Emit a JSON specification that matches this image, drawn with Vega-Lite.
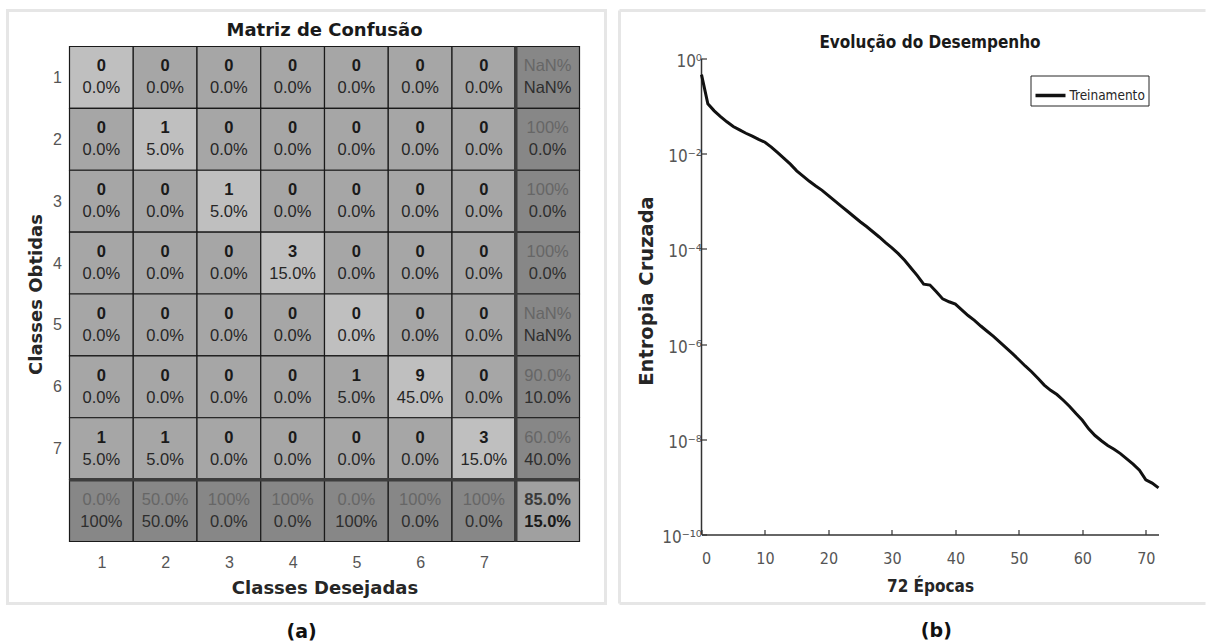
{
  "$schema": "https://vega.github.io/schema/vega-lite/v6.json",
  "background": "white",
  "padding": {"left": 5.5, "top": 8.5, "right": 0, "bottom": 0},
  "spacing": 10,
  "resolve": {"legend": {"color": "independent"}, "scale": {"color": "independent"}},
  "config": {"view": {"stroke": null}, "font": "Liberation Sans"},
  "datasets": {
    "cells": [
      {"r":1,"c":1,"a":"0","b":"0.0%","k":"d"},{"r":1,"c":2,"a":"0","b":"0.0%","k":"o"},{"r":1,"c":3,"a":"0","b":"0.0%","k":"o"},{"r":1,"c":4,"a":"0","b":"0.0%","k":"o"},{"r":1,"c":5,"a":"0","b":"0.0%","k":"o"},{"r":1,"c":6,"a":"0","b":"0.0%","k":"o"},{"r":1,"c":7,"a":"0","b":"0.0%","k":"o"},{"r":1,"c":8,"a":"NaN%","b":"NaN%","k":"s"},
      {"r":2,"c":1,"a":"0","b":"0.0%","k":"o"},{"r":2,"c":2,"a":"1","b":"5.0%","k":"d"},{"r":2,"c":3,"a":"0","b":"0.0%","k":"o"},{"r":2,"c":4,"a":"0","b":"0.0%","k":"o"},{"r":2,"c":5,"a":"0","b":"0.0%","k":"o"},{"r":2,"c":6,"a":"0","b":"0.0%","k":"o"},{"r":2,"c":7,"a":"0","b":"0.0%","k":"o"},{"r":2,"c":8,"a":"100%","b":"0.0%","k":"s"},
      {"r":3,"c":1,"a":"0","b":"0.0%","k":"o"},{"r":3,"c":2,"a":"0","b":"0.0%","k":"o"},{"r":3,"c":3,"a":"1","b":"5.0%","k":"d"},{"r":3,"c":4,"a":"0","b":"0.0%","k":"o"},{"r":3,"c":5,"a":"0","b":"0.0%","k":"o"},{"r":3,"c":6,"a":"0","b":"0.0%","k":"o"},{"r":3,"c":7,"a":"0","b":"0.0%","k":"o"},{"r":3,"c":8,"a":"100%","b":"0.0%","k":"s"},
      {"r":4,"c":1,"a":"0","b":"0.0%","k":"o"},{"r":4,"c":2,"a":"0","b":"0.0%","k":"o"},{"r":4,"c":3,"a":"0","b":"0.0%","k":"o"},{"r":4,"c":4,"a":"3","b":"15.0%","k":"d"},{"r":4,"c":5,"a":"0","b":"0.0%","k":"o"},{"r":4,"c":6,"a":"0","b":"0.0%","k":"o"},{"r":4,"c":7,"a":"0","b":"0.0%","k":"o"},{"r":4,"c":8,"a":"100%","b":"0.0%","k":"s"},
      {"r":5,"c":1,"a":"0","b":"0.0%","k":"o"},{"r":5,"c":2,"a":"0","b":"0.0%","k":"o"},{"r":5,"c":3,"a":"0","b":"0.0%","k":"o"},{"r":5,"c":4,"a":"0","b":"0.0%","k":"o"},{"r":5,"c":5,"a":"0","b":"0.0%","k":"d"},{"r":5,"c":6,"a":"0","b":"0.0%","k":"o"},{"r":5,"c":7,"a":"0","b":"0.0%","k":"o"},{"r":5,"c":8,"a":"NaN%","b":"NaN%","k":"s"},
      {"r":6,"c":1,"a":"0","b":"0.0%","k":"o"},{"r":6,"c":2,"a":"0","b":"0.0%","k":"o"},{"r":6,"c":3,"a":"0","b":"0.0%","k":"o"},{"r":6,"c":4,"a":"0","b":"0.0%","k":"o"},{"r":6,"c":5,"a":"1","b":"5.0%","k":"o"},{"r":6,"c":6,"a":"9","b":"45.0%","k":"d"},{"r":6,"c":7,"a":"0","b":"0.0%","k":"o"},{"r":6,"c":8,"a":"90.0%","b":"10.0%","k":"s"},
      {"r":7,"c":1,"a":"1","b":"5.0%","k":"o"},{"r":7,"c":2,"a":"1","b":"5.0%","k":"o"},{"r":7,"c":3,"a":"0","b":"0.0%","k":"o"},{"r":7,"c":4,"a":"0","b":"0.0%","k":"o"},{"r":7,"c":5,"a":"0","b":"0.0%","k":"o"},{"r":7,"c":6,"a":"0","b":"0.0%","k":"o"},{"r":7,"c":7,"a":"3","b":"15.0%","k":"d"},{"r":7,"c":8,"a":"60.0%","b":"40.0%","k":"s"},
      {"r":8,"c":1,"a":"0.0%","b":"100%","k":"s"},{"r":8,"c":2,"a":"50.0%","b":"50.0%","k":"s"},{"r":8,"c":3,"a":"100%","b":"0.0%","k":"s"},{"r":8,"c":4,"a":"100%","b":"0.0%","k":"s"},{"r":8,"c":5,"a":"0.0%","b":"100%","k":"s"},{"r":8,"c":6,"a":"100%","b":"0.0%","k":"s"},{"r":8,"c":7,"a":"100%","b":"0.0%","k":"s"},{"r":8,"c":8,"a":"85.0%","b":"15.0%","k":"t"}
    ],
    "loss": [
      {"epoca":0,"entropia":0.457},{"epoca":1,"entropia":0.112},{"epoca":2,"entropia":0.0794},{"epoca":3,"entropia":0.0603},{"epoca":4,"entropia":0.0468},{"epoca":5,"entropia":0.0372},{"epoca":6,"entropia":0.0316},{"epoca":7,"entropia":0.0269},{"epoca":8,"entropia":0.0234},{"epoca":9,"entropia":0.0200},
      {"epoca":10,"entropia":0.0174},{"epoca":11,"entropia":0.0138},{"epoca":12,"entropia":0.0105},{"epoca":13,"entropia":7.94e-3},{"epoca":14,"entropia":6.03e-3},{"epoca":15,"entropia":4.37e-3},{"epoca":16,"entropia":3.39e-3},{"epoca":17,"entropia":2.63e-3},{"epoca":18,"entropia":2.09e-3},{"epoca":19,"entropia":1.70e-3},
      {"epoca":20,"entropia":1.32e-3},{"epoca":21,"entropia":1.02e-3},{"epoca":22,"entropia":7.94e-4},{"epoca":23,"entropia":6.17e-4},{"epoca":24,"entropia":4.79e-4},{"epoca":25,"entropia":3.72e-4},{"epoca":26,"entropia":2.95e-4},{"epoca":27,"entropia":2.29e-4},{"epoca":28,"entropia":1.78e-4},{"epoca":29,"entropia":1.35e-4},
      {"epoca":30,"entropia":1.05e-4},{"epoca":31,"entropia":7.94e-5},{"epoca":32,"entropia":5.75e-5},{"epoca":33,"entropia":3.98e-5},{"epoca":34,"entropia":2.75e-5},{"epoca":35,"entropia":1.82e-5},{"epoca":36,"entropia":1.74e-5},{"epoca":37,"entropia":1.26e-5},{"epoca":38,"entropia":8.91e-6},{"epoca":39,"entropia":7.76e-6},
      {"epoca":40,"entropia":6.92e-6},{"epoca":41,"entropia":5.25e-6},{"epoca":42,"entropia":3.98e-6},{"epoca":43,"entropia":3.16e-6},{"epoca":44,"entropia":2.40e-6},{"epoca":45,"entropia":1.86e-6},{"epoca":46,"entropia":1.45e-6},{"epoca":47,"entropia":1.10e-6},{"epoca":48,"entropia":8.32e-7},{"epoca":49,"entropia":6.31e-7},
      {"epoca":50,"entropia":4.68e-7},{"epoca":51,"entropia":3.47e-7},{"epoca":52,"entropia":2.63e-7},{"epoca":53,"entropia":1.91e-7},{"epoca":54,"entropia":1.38e-7},{"epoca":55,"entropia":1.07e-7},{"epoca":56,"entropia":8.71e-8},{"epoca":57,"entropia":6.61e-8},{"epoca":58,"entropia":4.90e-8},{"epoca":59,"entropia":3.47e-8},
      {"epoca":60,"entropia":2.51e-8},{"epoca":61,"entropia":1.66e-8},{"epoca":62,"entropia":1.20e-8},{"epoca":63,"entropia":9.33e-9},{"epoca":64,"entropia":7.41e-9},{"epoca":65,"entropia":6.17e-9},{"epoca":66,"entropia":5.01e-9},{"epoca":67,"entropia":3.89e-9},{"epoca":68,"entropia":3.02e-9},{"epoca":69,"entropia":2.24e-9},
      {"epoca":70,"entropia":1.41e-9},{"epoca":71,"entropia":1.20e-9},{"epoca":72,"entropia":9.55e-10}
    ]
  },
  "hconcat": [
    {
      "width": 510,
      "height": 495,
      "title": {"text": "Matriz de Confusão", "anchor": "middle", "offset": -31, "font": "DejaVu Sans", "fontSize": 18, "fontWeight": "bold", "color": "#1a1a1a"},
      "layer": [
        {
          "data": {"values": [{}]},
          "mark": {"type": "rect", "filled": false, "stroke": "#e6e6e6", "strokeWidth": 3},
          "encoding": {
            "x": {"datum": -0.9725, "type": "quantitative"},
            "x2": {"datum": 8.408},
            "y": {"datum": -0.582, "type": "quantitative"},
            "y2": {"datum": 9.002}
          }
        },
        {
          "data": {"name": "cells"},
          "transform": [
            {"calculate": "datum.c - 1", "as": "c0"},
            {"calculate": "datum.r - 1", "as": "r0"}
          ],
          "mark": {"type": "rect", "stroke": "#1a1a1a", "strokeWidth": 1.2},
          "encoding": {
            "x": {"field": "c0", "type": "quantitative", "title": "Classes Desejadas",
              "scale": {"domain": [0, 8], "nice": false, "zero": false},
              "axis": {"values": [0.5,1.5,2.5,3.5,4.5,5.5,6.5], "labelExpr": "'' + (datum.value + 0.5)", "domain": false, "ticks": false, "tickSize": 0, "grid": false, "labelPadding": 13, "labelFont": "Liberation Sans", "labelFontSize": 16, "labelColor": "#555555", "titleFont": "DejaVu Sans", "titleFontSize": 18, "titleFontWeight": "bold", "titleColor": "#262626", "titlePadding": 9}},
            "x2": {"field": "c"},
            "y": {"field": "r0", "type": "quantitative", "title": "Classes Obtidas",
              "scale": {"domain": [0, 8], "nice": false, "zero": false, "reverse": true},
              "axis": {"values": [0.5,1.5,2.5,3.5,4.5,5.5,6.5], "labelExpr": "'' + (datum.value + 0.5)", "domain": false, "ticks": false, "tickSize": 0, "grid": false, "labelPadding": 8, "labelFont": "Liberation Sans", "labelFontSize": 16, "labelColor": "#555555", "titleFont": "DejaVu Sans", "titleFontSize": 18, "titleFontWeight": "bold", "titleColor": "#262626", "titlePadding": 7}},
            "y2": {"field": "r"},
            "fill": {"field": "k", "type": "nominal", "legend": null,
              "scale": {"domain": ["d", "o", "s", "t"], "range": ["#bfbfbf", "#a6a6a6", "#878787", "#a0a0a0"]}}
          }
        },
        {
          "data": {"values": [{}]},
          "mark": {"type": "rule", "color": "#3d3d3d", "strokeWidth": 3.5},
          "encoding": {"x": {"datum": 7, "type": "quantitative"}, "y": {"datum": 0, "type": "quantitative"}, "y2": {"datum": 8}}
        },
        {
          "data": {"values": [{}]},
          "mark": {"type": "rule", "color": "#3d3d3d", "strokeWidth": 3.5},
          "encoding": {"y": {"datum": 7, "type": "quantitative"}, "x": {"datum": 0, "type": "quantitative"}, "x2": {"datum": 8}}
        },
        {
          "data": {"name": "cells"},
          "transform": [
            {"filter": "datum.k == 'd' || datum.k == 'o'"},
            {"calculate": "datum.c - 0.5", "as": "cx"},
            {"calculate": "datum.r - 0.5", "as": "cy"}
          ],
          "mark": {"type": "text", "font": "Liberation Sans", "fontSize": 16.5, "fontWeight": "bold", "color": "#1a1a1a", "dy": -11, "baseline": "middle"},
          "encoding": {"x": {"field": "cx", "type": "quantitative", "title": "Classes Desejadas"}, "y": {"field": "cy", "type": "quantitative", "title": "Classes Obtidas"}, "text": {"field": "a"}}
        },
        {
          "data": {"name": "cells"},
          "transform": [
            {"filter": "datum.k == 'd' || datum.k == 'o'"},
            {"calculate": "datum.c - 0.5", "as": "cx"},
            {"calculate": "datum.r - 0.5", "as": "cy"}
          ],
          "mark": {"type": "text", "font": "Liberation Sans", "fontSize": 16.5, "color": "#262626", "dy": 11, "baseline": "middle"},
          "encoding": {"x": {"field": "cx", "type": "quantitative", "title": "Classes Desejadas"}, "y": {"field": "cy", "type": "quantitative", "title": "Classes Obtidas"}, "text": {"field": "b"}}
        },
        {
          "data": {"name": "cells"},
          "transform": [
            {"filter": "datum.k == 's'"},
            {"calculate": "datum.c - 0.5", "as": "cx"},
            {"calculate": "datum.r - 0.5", "as": "cy"}
          ],
          "mark": {"type": "text", "font": "Liberation Sans", "fontSize": 16.5, "color": "#666666", "dy": -11, "baseline": "middle"},
          "encoding": {"x": {"field": "cx", "type": "quantitative", "title": "Classes Desejadas"}, "y": {"field": "cy", "type": "quantitative", "title": "Classes Obtidas"}, "text": {"field": "a"}}
        },
        {
          "data": {"name": "cells"},
          "transform": [
            {"filter": "datum.k == 's'"},
            {"calculate": "datum.c - 0.5", "as": "cx"},
            {"calculate": "datum.r - 0.5", "as": "cy"}
          ],
          "mark": {"type": "text", "font": "Liberation Sans", "fontSize": 16.5, "color": "#2e2e2e", "dy": 11, "baseline": "middle"},
          "encoding": {"x": {"field": "cx", "type": "quantitative", "title": "Classes Desejadas"}, "y": {"field": "cy", "type": "quantitative", "title": "Classes Obtidas"}, "text": {"field": "b"}}
        },
        {
          "data": {"name": "cells"},
          "transform": [
            {"filter": "datum.k == 't'"},
            {"calculate": "datum.c - 0.5", "as": "cx"},
            {"calculate": "datum.r - 0.5", "as": "cy"}
          ],
          "mark": {"type": "text", "font": "Liberation Sans", "fontSize": 16.5, "fontWeight": "bold", "color": "#3a3a3a", "dy": -11, "baseline": "middle"},
          "encoding": {"x": {"field": "cx", "type": "quantitative", "title": "Classes Desejadas"}, "y": {"field": "cy", "type": "quantitative", "title": "Classes Obtidas"}, "text": {"field": "a"}}
        },
        {
          "data": {"name": "cells"},
          "transform": [
            {"filter": "datum.k == 't'"},
            {"calculate": "datum.c - 0.5", "as": "cx"},
            {"calculate": "datum.r - 0.5", "as": "cy"}
          ],
          "mark": {"type": "text", "font": "Liberation Sans", "fontSize": 16.5, "fontWeight": "bold", "color": "#1a1a1a", "dy": 11, "baseline": "middle"},
          "encoding": {"x": {"field": "cx", "type": "quantitative", "title": "Classes Desejadas"}, "y": {"field": "cy", "type": "quantitative", "title": "Classes Obtidas"}, "text": {"field": "b"}}
        },
        {
          "data": {"values": [{"painel": "(a)"}]},
          "mark": {"type": "text", "font": "DejaVu Sans", "fontSize": 19, "fontWeight": "bold", "color": "#111111", "baseline": "middle"},
          "encoding": {"x": {"datum": 3.64, "type": "quantitative"}, "y": {"datum": 9.455, "type": "quantitative"}, "text": {"field": "painel"}}
        }
      ]
    },
    {
      "width": 457,
      "height": 488,
      "title": {"text": "Evolução do Desempenho", "anchor": "middle", "offset": -43, "font": "'DejaVu Sans Condensed', Roboto, sans-serif", "fontSize": 17, "fontWeight": "bold", "color": "#1a1a1a"},
      "layer": [
        {
          "data": {"values": [{}]},
          "mark": {"type": "rule", "color": "#e6e6e6", "strokeWidth": 3},
          "encoding": {"x": {"datum": -12.92, "type": "quantitative"}, "x2": {"datum": 79.41}, "y": {"datum": 10.2, "type": "quantitative"}}
        },
        {
          "data": {"values": [{}]},
          "mark": {"type": "rule", "color": "#e6e6e6", "strokeWidth": 3},
          "encoding": {"x": {"datum": -12.92, "type": "quantitative"}, "x2": {"datum": 79.41}, "y": {"datum": 3.55e-12, "type": "quantitative"}}
        },
        {
          "data": {"values": [{}]},
          "mark": {"type": "rule", "color": "#e6e6e6", "strokeWidth": 3},
          "encoding": {"x": {"datum": -12.92, "type": "quantitative"}, "y": {"datum": 10.2, "type": "quantitative"}, "y2": {"datum": 3.55e-12}}
        },
        {
          "data": {"values": [{}]},
          "mark": {"type": "rule", "color": "#333333", "strokeWidth": 1.5},
          "encoding": {"x": {"datum": 0, "type": "quantitative"}, "y": {"datum": 1e-10, "type": "quantitative"}, "y2": {"datum": 1}}
        },
        {
          "data": {"name": "loss"},
          "mark": {"type": "line", "strokeWidth": 3},
          "encoding": {
            "x": {"field": "epoca", "type": "quantitative", "title": "72 Épocas",
              "scale": {"domain": [0, 72], "nice": false, "zero": false},
              "axis": {"values": [0,10,20,30,40,50,60,70], "grid": false, "domainColor": "#333333", "domainWidth": 1.5, "tickColor": "#333333", "tickWidth": 1.2, "tickSize": -5, "labelPadding": 21, "labelFont": "'DejaVu Sans Condensed', Roboto, sans-serif", "labelFontSize": 16, "labelColor": "#555555", "titleFont": "'DejaVu Sans Condensed', Roboto, sans-serif", "titleFontSize": 17, "titleFontWeight": "bold", "titleColor": "#262626", "titlePadding": 12}},
            "y": {"field": "entropia", "type": "quantitative", "title": "Entropia Cruzada",
              "scale": {"type": "log", "domain": [1e-10, 1.787], "nice": false},
              "axis": {"values": [1, 0.01, 0.0001, 1e-6, 1e-8, 1e-10], "labelExpr": "['10⁰','10⁻²','10⁻⁴','10⁻⁶','10⁻⁸','10⁻¹⁰'][round(-log(datum.value)/LN10/2)]", "domain": false, "grid": false, "tickColor": "#333333", "tickWidth": 1.2, "tickSize": -5, "labelPadding": 5, "labelOffset": 3, "labelFont": "'DejaVu Sans Condensed', Roboto, sans-serif", "labelFontSize": 17, "labelColor": "#555555", "titleFont": "DejaVu Sans", "titleFontSize": 19.5, "titleFontWeight": "bold", "titleColor": "#262626", "titlePadding": 5}},
            "color": {"datum": "Treinamento", "type": "nominal",
              "scale": {"range": ["#111111"]},
              "legend": {"title": null, "orient": "none", "legendX": 329, "legendY": 29, "strokeColor": "#262626", "fillColor": "white", "padding": 3, "symbolType": "stroke", "symbolStrokeWidth": 3.5, "symbolSize": 900, "labelFont": "'DejaVu Sans Condensed', Roboto, sans-serif", "labelFontSize": 13.5, "labelColor": "#262626", "labelOffset": 2}}
          }
        },
        {
          "data": {"values": [{"painel": "(b)"}]},
          "mark": {"type": "text", "font": "DejaVu Sans", "fontSize": 19, "fontWeight": "bold", "color": "#111111", "baseline": "middle"},
          "encoding": {"x": {"datum": 37.0, "type": "quantitative"}, "y": {"datum": 9.2e-13, "type": "quantitative"}, "text": {"field": "painel"}}
        }
      ]
    }
  ]
}
